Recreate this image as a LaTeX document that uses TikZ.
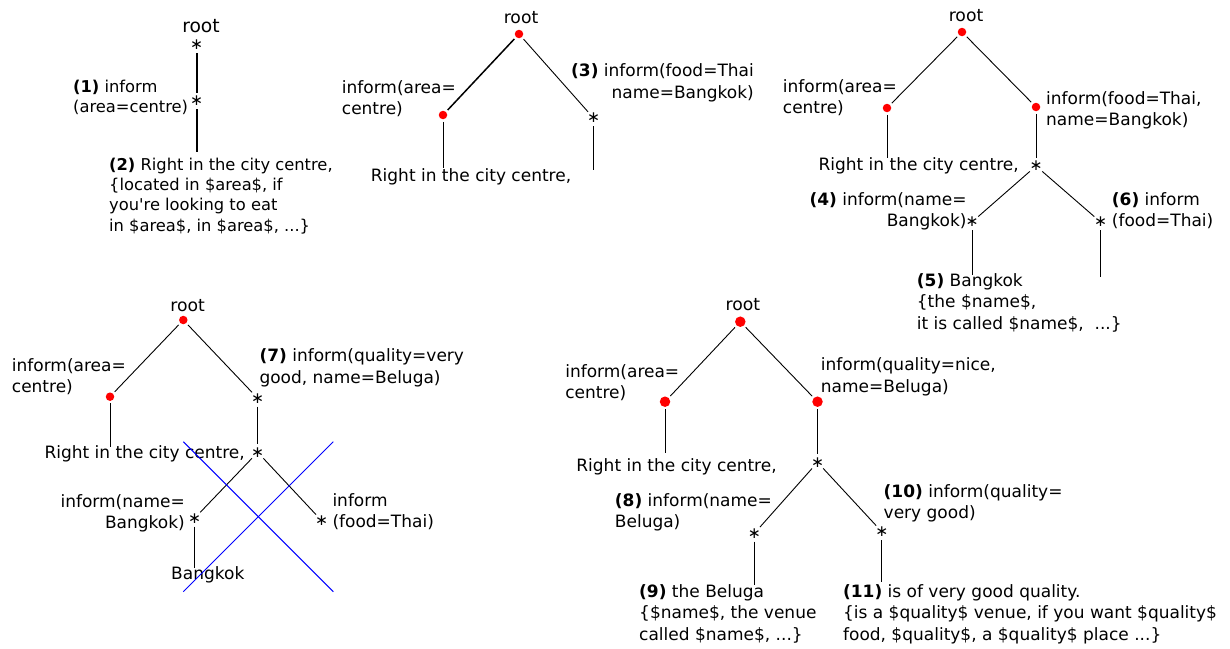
\documentclass[tikz,border=0pt]{standalone}
\usepackage{fontspec}
\setmainfont{DejaVu Sans}
\begin{document}
\begin{tikzpicture}[x=1pt,y=-1pt,
  tx/.style={anchor=north west, inner sep=0pt, align=left, font=\fontsize{17}{21.5}\selectfont, execute at begin node=\strut},
  txr/.style={tx, anchor=north east, align=right},
  txs/.style={tx, font=\fontsize{16.3}{20.3}\selectfont},
  rootlbl/.style={inner sep=0pt, font=\fontsize{17.2}{20}\selectfont},
  rdot/.style={circle, fill=red, inner sep=0pt, minimum size=8.5pt, outer sep=2.5pt},
  bigdot/.style={rdot, minimum size=10.5pt},
  star/.style={circle, inner sep=0pt, minimum size=14pt, font=\fontsize{15.5}{18}\selectfont},
  conn/.style={draw=black, line width=0.9pt},
  thickconn/.style={draw=black, line width=2pt},
  midconn/.style={draw=black, line width=1.5pt},
  cross/.style={draw=blue, line width=1pt}
]
\useasboundingbox[fill=white] (0,0) rectangle (1230,648);

% ---------- Panel 1 ----------
\node[rootlbl, font=\fontsize{18.7}{22}\selectfont] (root1) at (201,26) {root};
\node[star] (s1a) at (196.5,45) {∗};
\node[star] (s1b) at (196.5,101) {∗};
\coordinate (e1) at (196.5,152);
\draw[thickconn] (s1a) -- (s1b);
\draw[thickconn] (s1b) -- (e1);
\node[txs] (t1a) at (73,79.6) {\textbf{(1)} inform\\(area=centre)};
\node[txs] (t1b) at (109,157.6) {\textbf{(2)} Right in the city centre,\\\{located in \$area\$, if\\you\textquotesingle re looking to eat\\in \$area\$, in \$area\$, ...\}};

% ---------- Panel 2 ----------
\node[rootlbl] (root2) at (521,18) {root};
\node[rdot] (d2r) at (519,34) {};
\node[rdot] (d2a) at (443,115) {};
\node[star] (s2b) at (593.5,118) {∗};
\coordinate (e2a) at (443,168);
\coordinate (e2b) at (593.5,170);
\draw[midconn] (d2r) -- (d2a);
\draw[conn] (d2r) -- (s2b);
\draw[conn] (d2a) -- (e2a);
\draw[conn] (s2b) -- (e2b);
\node[tx] (t2a) at (341.7,80.3) {inform(area=\\centre)};
\node[txr] (t2b) at (754,63.7) {\textbf{(3)} inform(food=Thai\\name=Bangkok)};
\node[tx] (t2c) at (370.7,166) {Right in the city centre,};

% ---------- Panel 3 ----------
\node[rootlbl] (root3) at (966,16) {root};
\node[rdot] (d3r) at (962,32) {};
\node[rdot] (d3a) at (887,108) {};
\node[rdot] (d3b) at (1036,107) {};
\node[star] (s3c) at (1036,166) {∗};
\node[star] (s3d) at (972,222) {∗};
\node[star] (s3e) at (1100.5,222) {∗};
\coordinate (e3a) at (887,158);
\coordinate (e3d) at (972,275);
\coordinate (e3e) at (1100.5,277);
\draw[conn] (d3r) -- (d3a);
\draw[conn] (d3r) -- (d3b);
\draw[conn] (d3a) -- (e3a);
\draw[conn] (d3b) -- (s3c);
\draw[conn] (s3c) -- (s3d);
\draw[conn] (s3c) -- (s3e);
\draw[conn] (s3d) -- (e3d);
\draw[conn] (s3e) -- (e3e);
\node[tx] (t3a) at (782.7,79.3) {inform(area=\\centre)};
\node[tx] (t3b) at (1046,91) {inform(food=Thai,\\name=Bangkok)};
\node[tx] (t3c) at (818.3,155.3) {Right in the city centre,};
\node[txr] (t3d) at (966.7,192) {\textbf{(4)} inform(name=\\Bangkok)};
\node[tx] (t3e) at (1111.7,192) {\textbf{(6)} inform\\(food=Thai)};
\node[tx] (t3f) at (916.7,273.3) {\textbf{(5)} Bangkok\\\{the \$name\$,\\it is called \$name\$,\ \ ...\}};

% ---------- Panel 4 ----------
\node[rootlbl] (root4) at (187.7,306) {root};
\node[rdot] (d4r) at (183.3,320) {};
\node[rdot] (d4a) at (110,396.7) {};
\node[star] (s4b) at (257.7,398.3) {∗};
\node[star] (s4c) at (257.7,452.3) {∗};
\node[star] (s4d) at (194.5,518.3) {∗};
\node[star] (s4e) at (321.7,520.7) {∗};
\coordinate (e4a) at (110,446.7);
\coordinate (e4d) at (194.5,568.3);
\draw[conn] (d4r) -- (d4a);
\draw[conn] (d4r) -- (s4b);
\draw[conn] (d4a) -- (e4a);
\draw[conn] (s4b) -- (s4c);
\draw[conn] (s4c) -- (s4d);
\draw[conn] (s4c) -- (s4e);
\draw[conn] (s4d) -- (e4d);
\node[tx] (t4a) at (11.7,358.3) {inform(area=\\centre)};
\node[tx] (t4b) at (259.3,348.7) {\textbf{(7)} inform(quality=very\\good, name=Beluga)};
\node[tx] (t4c) at (44.3,443.3) {Right in the city centre,};
\node[txr] (t4d) at (185,494.3) {inform(name=\\Bangkok)};
\node[tx] (t4e) at (332.3,493.3) {inform\\(food=Thai)};
\node[tx] (t4f) at (171,564.3) {Bangkok};
\coordinate (x1) at (183.3,441.7);
\coordinate (x2) at (333.3,591.7);
\coordinate (x3) at (183.3,591.7);
\coordinate (x4) at (333.3,441.7);
\draw[cross] (x1) -- (x2);
\draw[cross] (x3) -- (x4);

% ---------- Panel 5 ----------
\node[rootlbl] (root5) at (742.9,304.3) {root};
\node[bigdot] (d5r) at (740.3,321.7) {};
\node[bigdot] (d5a) at (665,401.7) {};
\node[bigdot] (d5b) at (817.5,401.7) {};
\node[star] (s5c) at (817.5,462.3) {∗};
\node[star] (s5d) at (754.4,533.3) {∗};
\node[star] (s5e) at (881.8,531.7) {∗};
\coordinate (e5a) at (665,453.3);
\coordinate (e5d) at (754.4,585);
\coordinate (e5e) at (881.8,582.3);
\draw[conn] (d5r) -- (d5a);
\draw[conn] (d5r) -- (d5b);
\draw[conn] (d5a) -- (e5a);
\draw[conn] (d5b) -- (s5c);
\draw[conn] (s5c) -- (s5d);
\draw[conn] (s5c) -- (s5e);
\draw[conn] (s5d) -- (e5d);
\draw[conn] (s5e) -- (e5e);
\node[tx] (t5a) at (565.1,364.3) {inform(area=\\centre)};
\node[tx] (t5b) at (820.7,357.7) {inform(quality=nice,\\name=Beluga)};
\node[tx] (t5c) at (576.2,456) {Right in the city centre,};
\node[tx] (t5d) at (614.7,493.3) {\textbf{(8)} inform(name=\\Beluga)};
\node[tx] (t5e) at (883.5,484.3) {\textbf{(10)} inform(quality=\\very good)};
\node[tx] (t5f) at (639,584.3) {\textbf{(9)} the Beluga\\\{\$name\$, the venue\\called \$name\$, ...\}};
\node[tx] (t5g) at (842.9,584.3) {\textbf{(11)} is of very good quality.\\\{is a \$quality\$ venue, if you want \$quality\$\\food, \$quality\$, a \$quality\$ place ...\}};
\end{tikzpicture}
\end{document}
